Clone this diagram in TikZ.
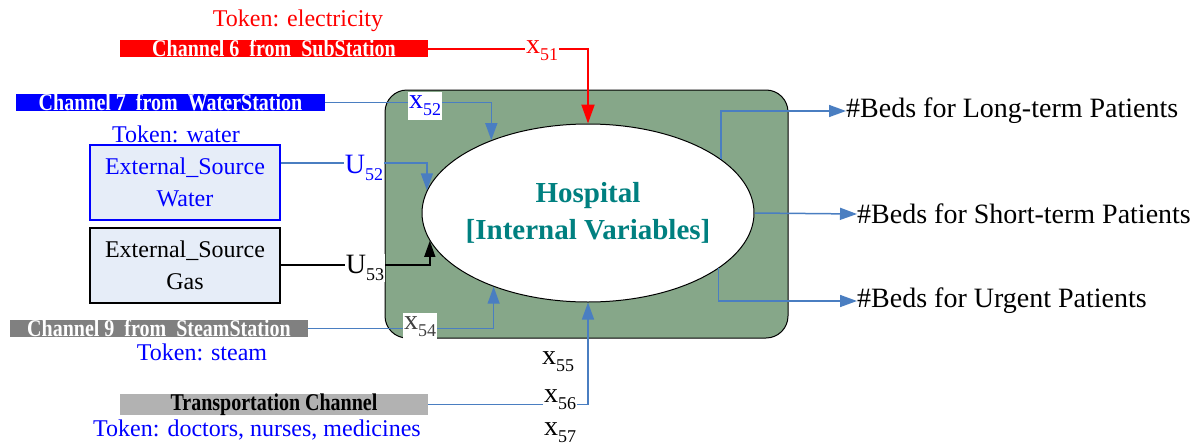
\documentclass[tikz,border=0pt]{standalone}
\usepackage{fontspec}
\setmainfont{Liberation Serif}
\usetikzlibrary{arrows.meta,positioning,shapes.geometric}
\definecolor{frmgreen}{RGB}{134,167,137}
\definecolor{srcfill}{RGB}{230,237,248}
\definecolor{linkblue}{RGB}{74,126,193}
\definecolor{steamgray}{RGB}{128,128,128}
\definecolor{transgray}{RGB}{178,178,178}
\definecolor{hosptext}{RGB}{0,128,128}
\newcommand{\fsz}[2]{\fontsize{#1}{#2}\selectfont}
\newcommand{\sublbl}[2]{#1\raisebox{-0.25em}{\fsz{18}{18}#2}}
\newcommand{\bartext}[1]{\scalebox{1}[1.2]{#1}}

\begin{document}
\begin{tikzpicture}[x=1pt, y=-1pt,
  bar/.style={minimum width=#1, minimum height=17pt, inner sep=0pt, font=\fsz{20}{20}\bfseries},
  srcbox/.style={draw, line width=2pt, fill=srcfill, minimum width=190pt, minimum height=75pt, align=center, font=\fsz{24}{32}},
  token/.style={font=\fsz{24}{24}, inner sep=0pt},
  varlbl/.style={font=\fsz{28}{28}, inner sep=1pt},
  outlbl/.style={font=\fsz{28}{28}, inner sep=0pt, anchor=west},
  linkarr/.style={draw=linkblue, line width=1.5pt, -{Triangle[length=17pt,width=12pt]}},
  redarr/.style={draw=red, line width=2pt, -{Triangle[length=19pt,width=13pt]}},
  gasarr/.style={draw=black, line width=1.5pt, -{Triangle[length=16pt,width=11pt]}}]
\useasboundingbox (0,0) rectangle (1204,447);

% hospital block
\node[draw, line width=1pt, fill=frmgreen, rounded corners=22pt, minimum width=403pt, minimum height=248pt] (frame) at (586.5,214) {};
\node[draw, line width=1pt, fill=white, ellipse, minimum width=332pt, minimum height=178pt, inner sep=0pt] (hosp) at (588,213) {};
\node[text=hosptext, font=\fsz{29}{37}\bfseries, align=center] (hosptxt) at (hosp.center) {Hospital\\{[Internal Variables]}};

% channels and sources
\node[token, text=red] (tok6) at (298,21) {Token: electricity};
\node[bar=308pt, fill=red, text=white] (ch6) at (274,48.5) {\bartext{Channel 6~ from~ SubStation}};
\node[bar=309pt, fill=blue, text=white] (ch7) at (170.5,102.5) {\bartext{Channel 7~ from~ WaterStation}};
\node[token, text=blue] (tok7) at (176,134) {Token: water};
\node[srcbox, draw=blue, text=blue] (srcw) at (185,182.5) {External\_Source\\Water};
\node[srcbox] (srcg) at (185,265) {External\_Source\\Gas};
\node[bar=298pt, fill=steamgray, text=white] (ch9) at (159,328.5) {\bartext{Channel 9~ from~ SteamStation}};
\node[token, text=blue] (tok9) at (202,352) {Token: steam};
\node[bar=308pt, fill=transgray, text=black] (trans) at (274,404.5) {\bartext{Transportation Channel}};
\node[token, text=blue] (toktr) at (257,430) {Token: doctors, nurses, medicines};

% inputs
\draw[redarr] (ch6.east) -| (hosp.north);
\draw[linkarr] (ch7.east) -| (hosp.143.8);
\draw[linkarr] ([yshift=19.5pt]srcw.east) -| (hosp.172.3);
\draw[gasarr] (srcg.east) -| (hosp.190.4);
\draw[linkarr] (ch9.east) -| (hosp.218.4);
\draw[linkarr] (trans.east) -| (hosp.south);

\node[varlbl, text=red, fill=white] (x51) at (542,51) {\sublbl{x}{51}};
\node[varlbl, text=blue, fill=white, minimum height=28pt] (x52) at (425,106) {\sublbl{x}{52}};
\node[varlbl, text=blue, fill=white] (u52) at (364,168) {\sublbl{U}{52}};
\node[varlbl, fill=white] (u53) at (365,268) {\sublbl{U}{53}};
\node[varlbl, text=black!75, fill=white, minimum height=28pt] (x54) at (420,327) {\sublbl{x}{54}};
\node[varlbl] (x55) at (558,362) {\sublbl{x}{55}};
\node[varlbl, fill=white] (x56) at (560,400) {\sublbl{x}{56}};
\node[varlbl] (x57) at (560,433) {\sublbl{x}{57}};

% outputs
\node[outlbl] (beds1) at (846,111) {\#Beds for Long-term Patients};
\node[outlbl] (beds2) at (857,214) {\#Beds for Short-term Patients};
\node[outlbl] (beds3) at (857,301) {\#Beds for Urgent Patients};
\draw[linkarr] (hosp.22.25) |- (beds1.west);
\draw[linkarr] (hosp.east) -- (beds2.west);
\draw[linkarr] (hosp.337) |- (beds3.west);
\end{tikzpicture}
\end{document}
